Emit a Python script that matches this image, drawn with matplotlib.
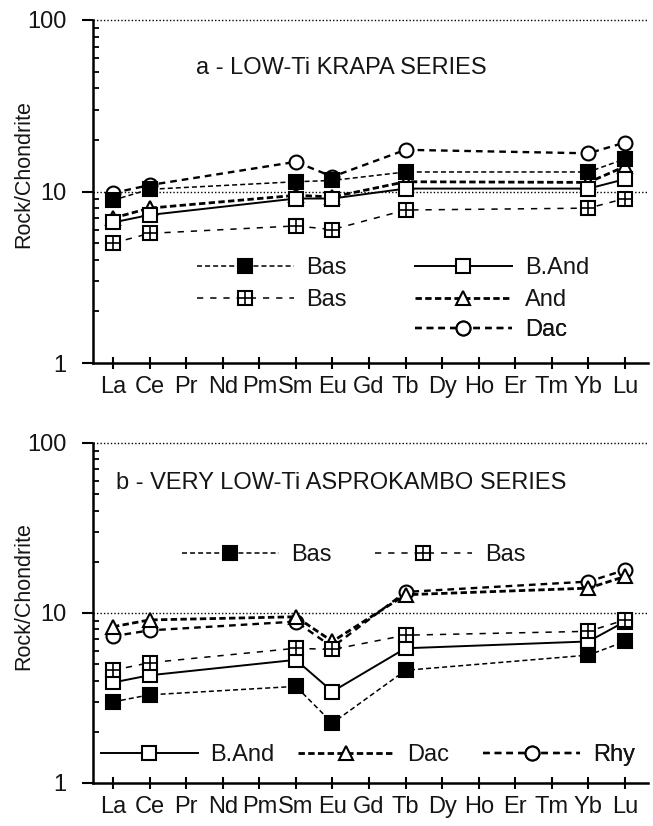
import matplotlib
matplotlib.use("Agg")
import matplotlib.pyplot as plt
from matplotlib.lines import Line2D
from matplotlib.ticker import FixedLocator, NullFormatter

plt.rcParams['font.family'] = ['Liberation Sans', 'DejaVu Sans']
plt.rcParams['lines.scale_dashes'] = False

# ---------------- data ----------------
ree_labels = ["La", "Ce", "Pr", "Nd", "Pm", "Sm", "Eu", "Gd", "Tb", "Dy", "Ho", "Er", "Tm", "Yb", "Lu"]
sample_elements = ["La", "Ce", "Sm", "Eu", "Tb", "Yb", "Lu"]

# panel a - LOW-Ti KRAPA SERIES
a_bas_filled = [8.9, 10.3, 11.4, 11.6, 13.0, 13.0, 15.5]
a_bas_grid = [5.0, 5.7, 6.3, 6.0, 7.8, 8.0, 9.1]
a_band = [6.6, 7.3, 9.1, 9.1, 10.4, 10.4, 11.8]
a_and = [7.0, 8.0, 9.5, 9.3, 11.4, 11.3, 14.0]
a_dac = [9.8, 10.9, 14.9, 12.2, 17.5, 16.7, 19.3]

# panel b - VERY LOW-Ti ASPROKAMBO SERIES
b_bas_filled = [3.0, 3.3, 3.7, 2.25, 4.6, 5.65, 6.8]
b_bas_grid = [4.6, 5.1, 6.2, 6.1, 7.4, 7.8, 9.1]
b_band = [3.9, 4.3, 5.3, 3.45, 6.2, 6.8, 8.9]
b_dac = [8.3, 9.1, 9.5, 6.8, 12.8, 14.0, 16.4]
b_rhy = [7.3, 7.9, 8.9, 6.3, 13.3, 15.3, 17.9]

ytick_values = [1, 10, 100]
ytick_labels = ["1", "10", "100"]
minor_values = [v * m for v in (1, 10) for m in range(2, 10)]

title_a = "a - LOW-Ti KRAPA SERIES"
title_b = "b - VERY LOW-Ti ASPROKAMBO SERIES"
ylabel = "Rock/Chondrite"

# ---------------- styles ----------------
TXT = '#151515'
FS = 17
MS = 10
MEW = 1.5

styles = {
    'bas_filled': dict(marker='s', mfc='black', mec='black', dashes=(3.6, 2.2), lw=1.1),
    'bas_grid': dict(marker='s', mfc='white', mec='black', dashes=(4.5, 5.0), lw=1.1),
    'band': dict(marker='s', mfc='white', mec='black', ls='-', lw=1.4),
    'tri': dict(marker='^', mfc='white', mec='black', dashes=(4.6, 2.4), lw=2.0),
    'circ': dict(marker='o', mfc='white', mec='black', dashes=(4.8, 3.6), lw=1.7),
}

x_idx = [ree_labels.index(e) for e in sample_elements]


def series(ax, y, key):
    st = dict(styles[key])
    ax.plot(x_idx, y, color='black', ms=MS, mew=MEW, **st)
    if key == 'bas_grid':
        ax.plot(x_idx, y, ls='none', marker='+', ms=MS, mew=1.2, color='black')


def handle(key):
    st = dict(styles[key])
    h = Line2D([], [], color='black', ms=MS, mew=MEW, **st)
    if key == 'bas_grid':
        p = Line2D([], [], ls='none', marker='+', ms=MS, mew=1.2, color='black')
        return (h, p)
    return h


def entry(ax, key, label, x, y):
    leg = ax.legend([handle(key)], [label], loc='center left', bbox_to_anchor=(x, y),
                    frameon=False, borderpad=0, borderaxespad=0, handlelength=4.1,
                    handletextpad=0.55, fontsize=FS, labelcolor=TXT)
    ax.add_artist(leg)


def style_axes(ax):
    ax.set_yscale('log')
    ax.set_ylim(1, 100)
    ax.set_xlim(-0.547, 14.63)
    for s in ('top', 'right'):
        ax.spines[s].set_visible(False)
    for s in ('left', 'bottom'):
        ax.spines[s].set_linewidth(1.8)
    ax.set_xticks(range(len(ree_labels)))
    ax.set_xticklabels(ree_labels, fontsize=FS, color=TXT)
    ax.yaxis.set_major_locator(FixedLocator(ytick_values))
    ax.set_yticklabels(ytick_labels, fontsize=FS, color=TXT)
    ax.yaxis.set_minor_locator(FixedLocator(minor_values))
    ax.yaxis.set_minor_formatter(NullFormatter())
    ax.tick_params(axis='x', direction='inout', length=9, width=1.5, pad=5)
    ax.tick_params(axis='y', which='major', direction='out', length=8, width=1.5, pad=11)
    ax.tick_params(axis='y', which='minor', direction='in', length=4, width=1.3)
    for v in (10, 100):
        ax.axhline(v, ls=(0, (1, 1.5)), lw=1.0, color='black', clip_on=False, zorder=1)
    ax.set_ylabel(ylabel, fontsize=15.5, color=TXT)
    ax.yaxis.set_label_coords(-0.105, 0.55)


fig = plt.figure(figsize=(6.53, 8.26), dpi=100)
ax_a = fig.add_axes([0.1424, 0.5605, 0.850, 0.4153])
ax_b = fig.add_axes([0.1424, 0.0521, 0.850, 0.4116])

# panel a
style_axes(ax_a)
series(ax_a, a_dac, 'circ')
series(ax_a, a_and, 'tri')
series(ax_a, a_bas_filled, 'bas_filled')
series(ax_a, a_band, 'band')
series(ax_a, a_bas_grid, 'bas_grid')
ax_a.text(0.447, 0.860, title_a, transform=ax_a.transAxes, ha='center', va='center', fontsize=FS, color=TXT)
entry(ax_a, 'bas_filled', 'Bas', 0.187, 0.277)
entry(ax_a, 'bas_grid', 'Bas', 0.187, 0.184)
entry(ax_a, 'band', 'B.And', 0.580, 0.277)
entry(ax_a, 'tri', 'And', 0.580, 0.184)
entry(ax_a, 'circ', 'Dac', 0.580, 0.096)

# panel b
style_axes(ax_b)
series(ax_b, b_rhy, 'circ')
series(ax_b, b_dac, 'tri')
series(ax_b, b_band, 'band')
series(ax_b, b_bas_grid, 'bas_grid')
series(ax_b, b_bas_filled, 'bas_filled')
ax_b.text(0.448, 0.882, title_b, transform=ax_b.transAxes, ha='center', va='center', fontsize=FS, color=TXT)
entry(ax_b, 'bas_filled', 'Bas', 0.160, 0.671)
entry(ax_b, 'bas_grid', 'Bas', 0.508, 0.671)
entry(ax_b, 'band', 'B.And', 0.014, 0.082)
entry(ax_b, 'tri', 'Dac', 0.369, 0.082)
entry(ax_b, 'circ', 'Rhy', 0.703, 0.082)

fig.savefig('out.png', dpi=100, facecolor='white')
